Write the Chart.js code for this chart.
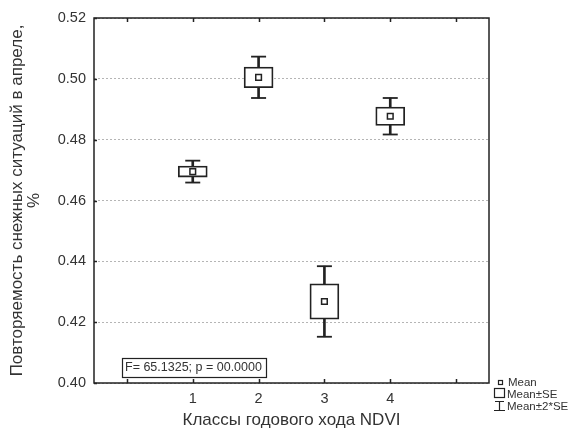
<!DOCTYPE html>
<html>
<head>
<meta charset="utf-8">
<script src="https://cdn.jsdelivr.net/npm/chart.js@4/dist/chart.umd.min.js"></script>
<style>
  html, body { margin: 0; padding: 0; background: #fff; }
</style>
</head>
<body>
<canvas id="chart" width="576" height="434"></canvas>
<script>
// данные
const classes = [1, 2, 3, 4];
const means = [0.4695, 0.5005, 0.4268, 0.4877];
const se = [0.0018, 0.0034, 0.0058, 0.0030];
const yTickValues = [0.40, 0.42, 0.44, 0.46, 0.48, 0.50, 0.52];
const xTickMarks = [0, 1, 2, 3, 4, 5];
const xTitle = 'Классы годового хода NDVI';
const yTitle = ['Повторяемость снежных ситуаций в апреле,', '%'];
const statText = 'F= 65.1325; p = 00.0000';
const legendLabels = ['Mean', 'Mean±SE', 'Mean±2*SE'];

const ink = '#222';
const textColor = '#333';
const font = '"Liberation Sans", Arial, sans-serif';

const boxData = classes.map((c, i) => ({ x: c, y: [means[i] - se[i], means[i] + se[i]] }));
const whiskerData = classes.map((c, i) => ({ x: c, y: [means[i] - 2 * se[i], means[i] + 2 * se[i]] }));
const capData = classes.flatMap((c, i) => [
    { x: c, y: means[i] - 2 * se[i] },
    { x: c, y: means[i] + 2 * se[i] }
]);
const meanData = classes.map((c, i) => ({ x: c, y: means[i] }));

// рамка, внутренние засечки, подпись статистики и легенда
const extras = {
    id: 'extras',
    afterDraw(chart) {
        const { ctx, chartArea: a, scales } = chart;
        ctx.save();
        ctx.strokeStyle = ink;
        ctx.lineWidth = 1.5;
        ctx.strokeRect(a.left, a.top, a.right - a.left, a.bottom - a.top);

        ctx.beginPath();
        xTickMarks.forEach(v => {
            const x = Math.round(scales.x.getPixelForValue(v)) + 0.5;
            ctx.moveTo(x, a.bottom); ctx.lineTo(x, a.bottom - 4);
            ctx.moveTo(x, a.top); ctx.lineTo(x, a.top + 4);
        });
        yTickValues.forEach(v => {
            const y = Math.round(scales.y.getPixelForValue(v)) + 0.5;
            ctx.moveTo(a.left, y); ctx.lineTo(a.left + 3, y);
        });
        ctx.stroke();

        // F-статистика
        const bx = a.left + 28, by = a.bottom - 25;
        ctx.lineWidth = 1.2;
        ctx.fillStyle = '#fff';
        ctx.fillRect(bx, by, 144, 19);
        ctx.strokeRect(bx + 0.5, by + 0.5, 144, 19);
        ctx.fillStyle = textColor;
        ctx.font = '12.5px ' + font;
        ctx.textBaseline = 'middle';
        ctx.fillText(statText, bx + 3, by + 10);

        // легенда
        const lx = a.right + 5;
        ctx.font = '11.5px ' + font;
        ctx.lineWidth = 1.2;
        ctx.strokeRect(lx + 4.5, 380.5, 4, 4);
        ctx.fillText(legendLabels[0], lx + 14, 383);
        ctx.strokeRect(lx + 0.5, 388.5, 10, 9);
        ctx.fillText(legendLabels[1], lx + 13, 395);
        ctx.beginPath();
        ctx.moveTo(lx + 1, 401.5); ctx.lineTo(lx + 10, 401.5);
        ctx.moveTo(lx + 5.5, 401.5); ctx.lineTo(lx + 5.5, 410.5);
        ctx.moveTo(lx, 410.5); ctx.lineTo(lx + 11, 410.5);
        ctx.stroke();
        ctx.fillText(legendLabels[2], lx + 13, 407);
        ctx.restore();
    }
};

new Chart(document.getElementById('chart'), {
    type: 'bar',
    data: {
        datasets: [
            {
                type: 'scatter',
                data: meanData,
                pointStyle: 'rect',
                radius: 4,
                backgroundColor: '#fff',
                borderColor: ink,
                borderWidth: 1.5,
                order: 0
            },
            {
                data: boxData,
                backgroundColor: '#fff',
                borderColor: ink,
                borderWidth: 1.8,
                borderSkipped: false,
                barThickness: 29,
                grouped: false,
                order: 1
            },
            {
                type: 'scatter',
                data: capData,
                pointStyle: 'line',
                radius: 7.5,
                borderColor: ink,
                borderWidth: 1.8,
                order: 2
            },
            {
                data: whiskerData,
                backgroundColor: ink,
                borderWidth: 0,
                barThickness: 2,
                grouped: false,
                order: 3
            }
        ]
    },
    options: {
        responsive: false,
        animation: false,
        layout: { padding: { top: 18, right: 87, left: 0, bottom: 0 } },
        plugins: { legend: { display: false }, tooltip: { enabled: false } },
        scales: {
            x: {
                type: 'linear',
                min: -0.5,
                max: 5.5,
                offset: false,
                grid: { display: false, offset: false, drawTicks: false },
                border: { display: false },
                afterBuildTicks: s => { s.ticks = classes.map(v => ({ value: v })); },
                afterFit: s => { s.height = 51; },
                ticks: { color: textColor, font: { family: font, size: 14.5 }, padding: 7 },
                title: {
                    display: true, text: xTitle, color: textColor,
                    font: { family: font, size: 17 }, padding: { top: 2, bottom: 3 }
                }
            },
            y: {
                min: 0.40,
                max: 0.52,
                afterBuildTicks: s => { s.ticks = yTickValues.map(v => ({ value: v })); },
                afterFit: s => { s.width = 94; },
                grid: { color: '#b5b5b5', lineWidth: 1, drawTicks: false },
                border: { display: false, dash: [2, 2] },
                ticks: {
                    color: textColor, font: { family: font, size: 14.5 }, padding: 8,
                    callback: v => v.toFixed(2)
                },
                title: {
                    display: true, text: yTitle, color: textColor,
                    font: { family: font, size: 17, lineHeight: 1.05 }, padding: { top: 8, bottom: 2 }
                }
            }
        }
    },
    plugins: [extras]
});
</script>
</body>
</html>
